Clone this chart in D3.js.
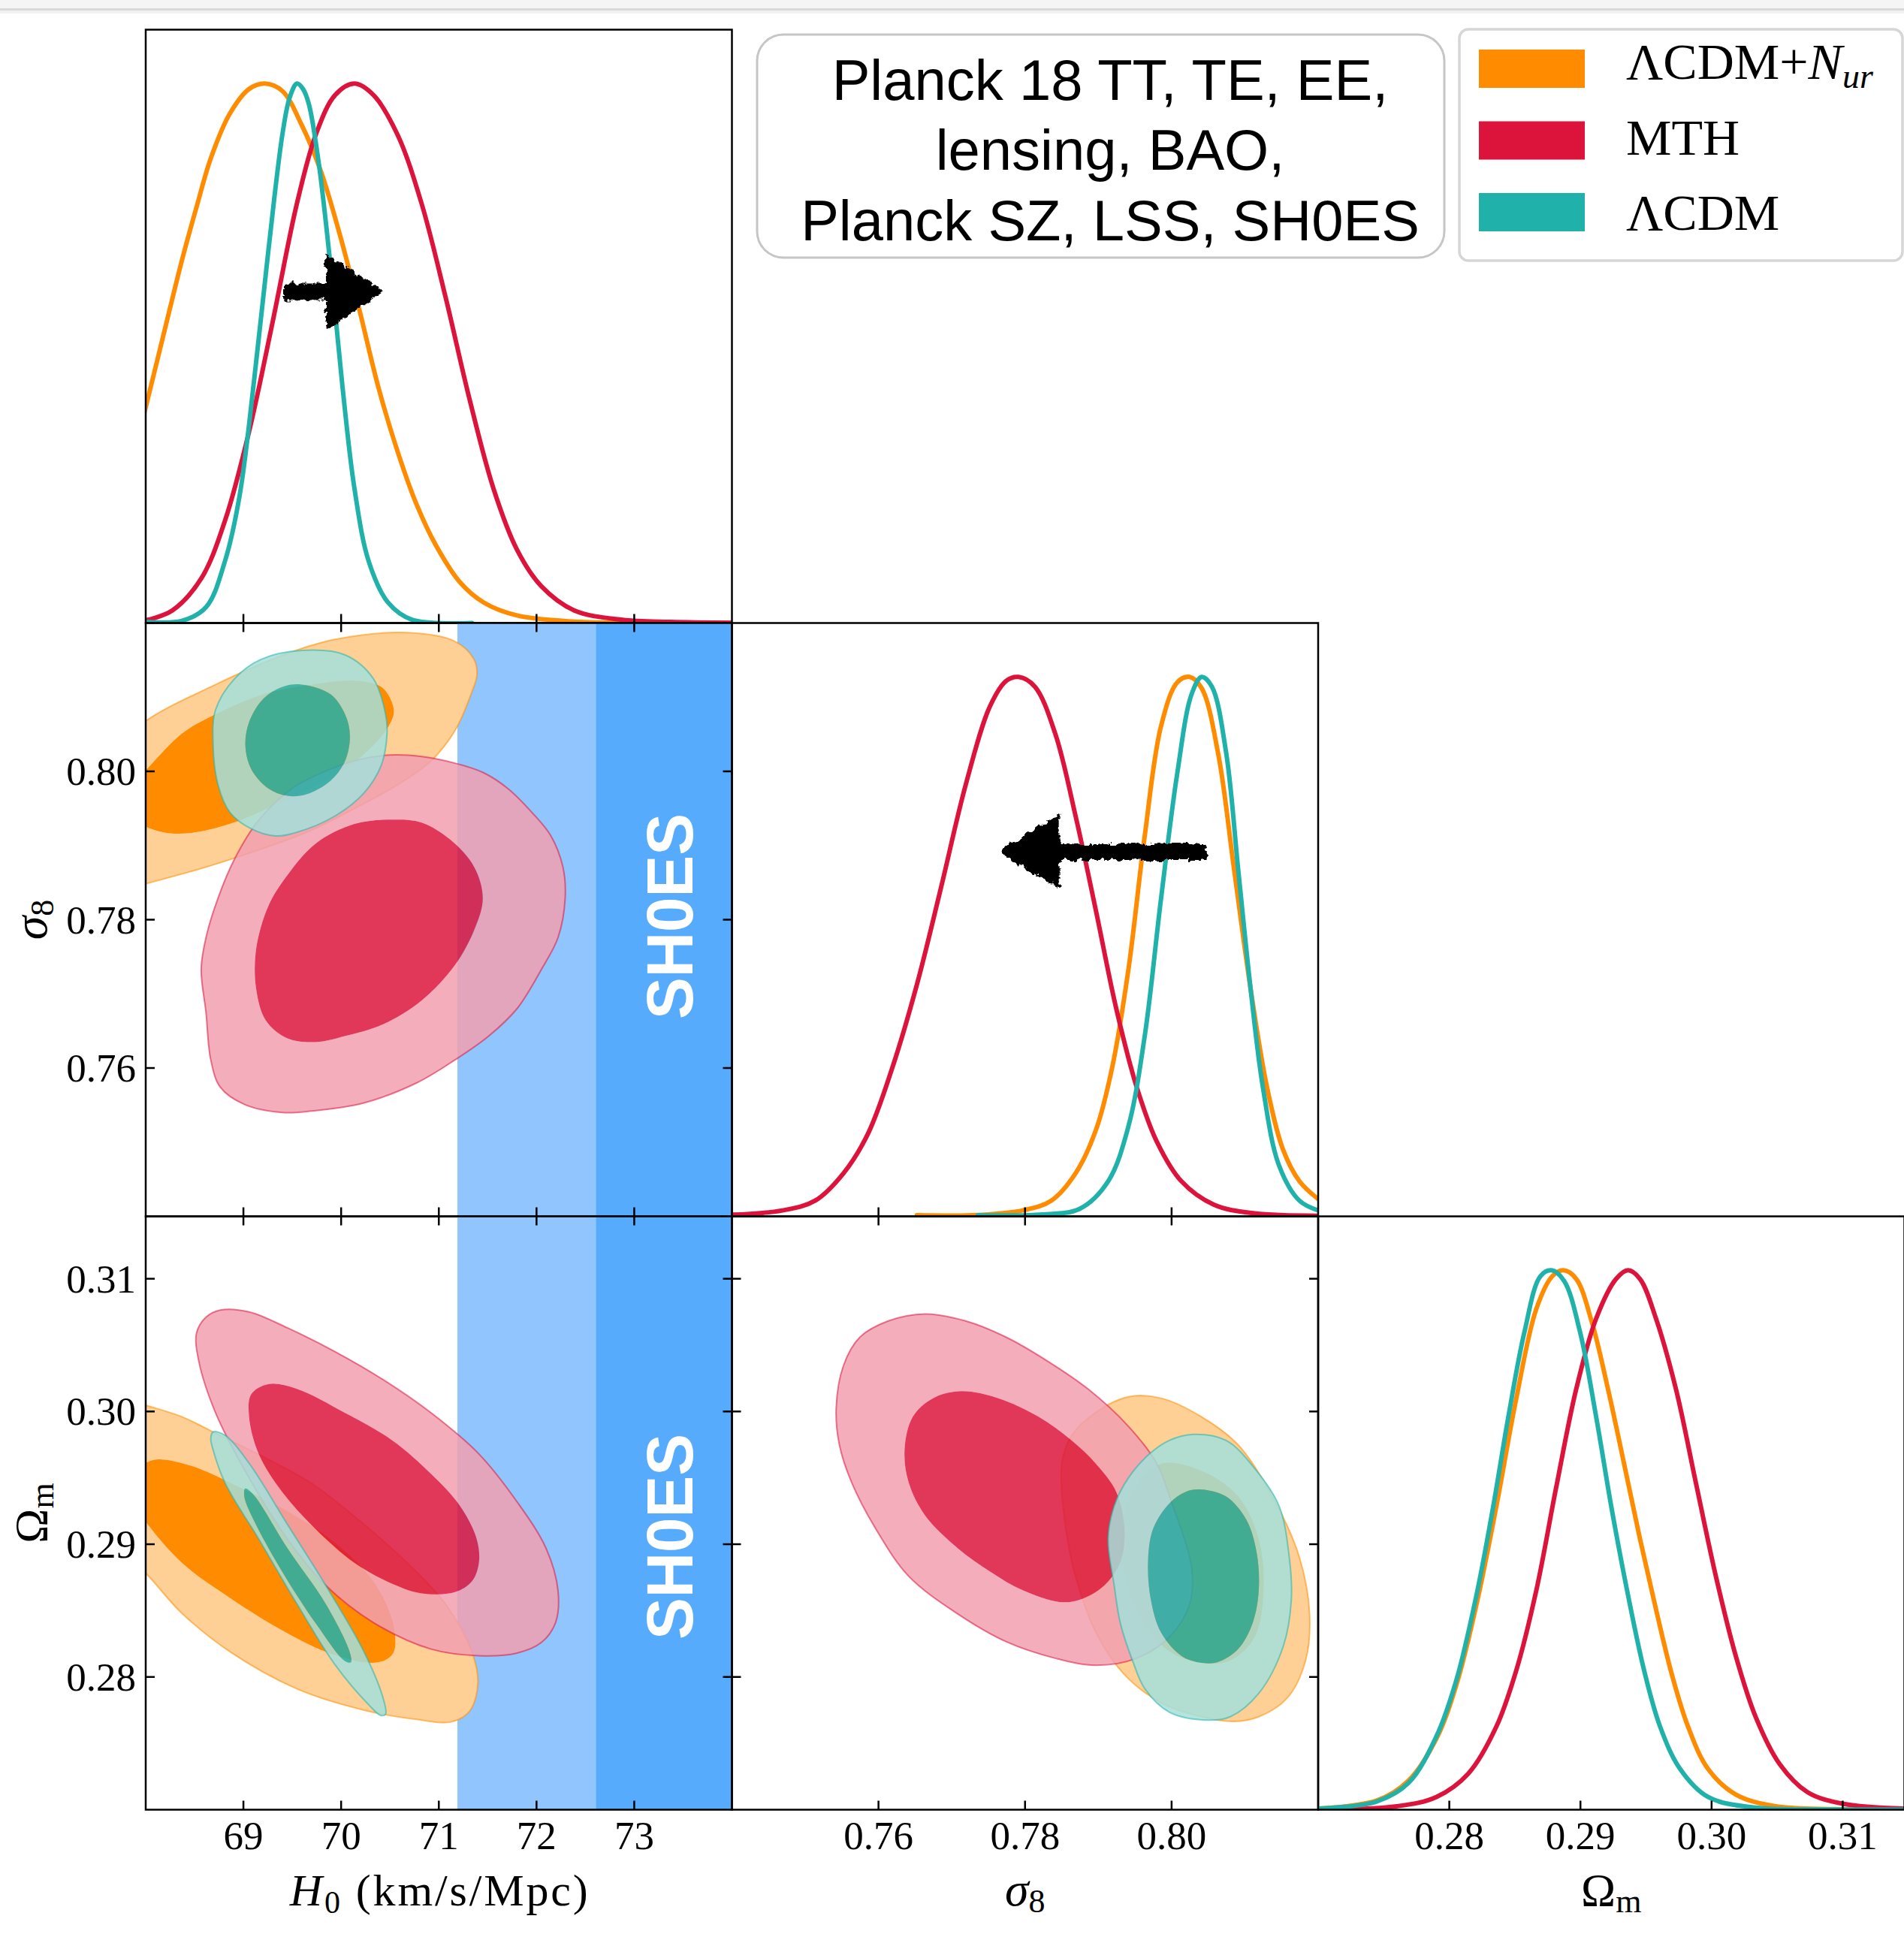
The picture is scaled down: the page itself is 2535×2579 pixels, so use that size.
<!DOCTYPE html>
<html><head><meta charset="utf-8">
<script src="https://cdn.jsdelivr.net/npm/d3@7"></script>
<style>body{margin:0;background:#fff}svg{display:block}</style>
</head><body>
<svg id="c" width="2535" height="2579"></svg>
<script>
// ---------------- DATA ----------------
const seriesNames = ["ΛCDM+N_ur", "MTH", "ΛCDM"];
const h0Range = [68, 74];
const s8Range = [0.74, 0.82];
const omRange = [0.27, 0.3147];
const h0Ticks = [69, 70, 71, 72, 73];
const h0TickLabels = ["69", "70", "71", "72", "73"];
const s8Ticks = [0.76, 0.78, 0.80];
const s8TickLabels = ["0.76", "0.78", "0.80"];
const omTicks = [0.28, 0.29, 0.30, 0.31];
const omTickLabels = ["0.28", "0.29", "0.30", "0.31"];
const sh0esMean = 74.03, sh0esSigma = 1.42;
const titleLines = ["Planck 18 TT, TE, EE,", "lensing, BAO,", "Planck SZ, LSS, SH0ES"];

// 1D marginals [value, normalised density]
const h0_LCDMNur = [[67.9,0.33],[68.0,0.40],[68.175,0.529],[68.37,0.672],[68.52,0.771],[68.665,0.861],[68.86,0.944],[69.058,0.99],[69.22,1.0],[69.4,0.986],[69.6,0.922],[69.79,0.839],[69.99,0.718],[70.185,0.582],[70.38,0.438],[70.578,0.318],[70.774,0.219],[70.97,0.144],[71.215,0.076],[71.46,0.038],[71.80,0.014],[72.39,0.0026],[73.13,0.0003],[74.0,0]];
const h0_MTH = [[68.0,0.005],[68.27,0.023],[68.57,0.083],[68.81,0.189],[69.058,0.355],[69.30,0.559],[69.548,0.778],[69.744,0.907],[69.94,0.979],[70.136,1.0],[70.33,0.979],[70.578,0.905],[70.823,0.778],[71.068,0.605],[71.313,0.416],[71.558,0.25],[71.80,0.136],[72.05,0.068],[72.39,0.023],[72.88,0.006],[73.37,0.002],[74.0,0.0003]];
const h0_LCDM = [[68.0,0.002],[68.37,0.004],[68.62,0.030],[68.81,0.114],[68.96,0.235],[69.107,0.446],[69.254,0.688],[69.40,0.907],[69.475,0.975],[69.548,1.0],[69.61,0.99],[69.67,0.962],[69.77,0.854],[69.89,0.665],[70.014,0.438],[70.136,0.25],[70.283,0.114],[70.48,0.038],[70.725,0.006],[71.34,0.0]];

const s8_LCDMNur = [[0.76523,0.002],[0.77356,0.0026],[0.77967,0.011],[0.78356,0.029],[0.7869,0.080],[0.78967,0.160],[0.79189,0.276],[0.79411,0.458],[0.79634,0.706],[0.79856,0.909],[0.80078,0.990],[0.80245,1.0],[0.80411,0.979],[0.80634,0.859],[0.80856,0.640],[0.81078,0.422],[0.81301,0.24],[0.81523,0.123],[0.81745,0.065],[0.82,0.032]];
const s8_MTH = [[0.74,0.003],[0.74689,0.011],[0.75134,0.029],[0.75523,0.080],[0.75856,0.153],[0.7619,0.276],[0.76523,0.429],[0.76856,0.611],[0.7719,0.800],[0.77523,0.946],[0.77745,0.993],[0.77912,1.0],[0.78134,0.982],[0.78412,0.895],[0.7869,0.742],[0.78967,0.567],[0.79245,0.385],[0.79523,0.24],[0.798,0.138],[0.80134,0.065],[0.80578,0.0215],[0.81134,0.0055],[0.82,0.0012]];
const s8_LCDM = [[0.77356,0.002],[0.7819,0.0033],[0.78745,0.014],[0.79134,0.065],[0.79411,0.167],[0.79634,0.335],[0.79856,0.589],[0.80078,0.822],[0.80273,0.968],[0.80411,1.0],[0.8055,0.982],[0.80745,0.859],[0.80911,0.640],[0.81078,0.422],[0.81245,0.24],[0.81467,0.094],[0.81745,0.029],[0.82,0.011]];

const om_LCDMNur = [[0.27005,0.002],[0.27446,0.0168],[0.2769,0.0541],[0.27903,0.1324],[0.28055,0.2324],[0.28207,0.3802],[0.28359,0.5627],[0.28511,0.7627],[0.28663,0.9279],[0.28785,0.9889],[0.2887,1.0],[0.28968,0.984],[0.29089,0.902],[0.2921,0.78],[0.29333,0.641],[0.29454,0.502],[0.29576,0.3715],[0.29698,0.2498],[0.2982,0.1543],[0.29972,0.0759],[0.30185,0.028],[0.30489,0.0063],[0.30945,0.001],[0.3147,0]];
const om_MTH = [[0.27005,0],[0.27598,0.0063],[0.27903,0.0237],[0.28146,0.0672],[0.28359,0.1541],[0.28511,0.2584],[0.28663,0.406],[0.28815,0.5974],[0.28968,0.78],[0.2912,0.9106],[0.29272,0.984],[0.29363,1.0],[0.29454,0.984],[0.29576,0.9106],[0.29728,0.78],[0.2988,0.6062],[0.30033,0.4324],[0.30185,0.2846],[0.30337,0.1715],[0.30519,0.0846],[0.30732,0.0324],[0.31006,0.0107],[0.31457,0.002]];
const om_LCDM = [[0.27005,0.002],[0.27446,0.015],[0.2769,0.0498],[0.27903,0.1367],[0.28055,0.241],[0.28207,0.3975],[0.28329,0.554],[0.2845,0.728],[0.28572,0.8845],[0.28694,0.9889],[0.28779,1.0],[0.28876,0.98],[0.28998,0.8845],[0.2912,0.728],[0.29241,0.554],[0.29363,0.3975],[0.29485,0.2586],[0.29607,0.1543],[0.29759,0.0759],[0.29972,0.0237],[0.30337,0.0037],[0.30945,0.0003],[0.3147,0]];

// 2D contours (68% = 1s, 95% = 2s)
const h0s8_LCDMNur_2s = [[67.4,0.787],[67.5,0.797],[67.7,0.803],[67.99,0.8067],[68.715,0.8117],[69.45,0.8159],[69.94,0.8178],[70.676,0.8187],[71.167,0.8175],[71.36,0.8151],[71.39,0.8130],[71.33,0.8104],[71.17,0.8056],[70.92,0.8014],[70.58,0.7982],[70.14,0.7950],[69.65,0.7918],[69.11,0.7892],[68.62,0.7871],[67.99,0.7848],[67.6,0.7835]];
const h0s8_LCDMNur_1s = [[67.99,0.8000],[68.37,0.8051],[68.715,0.8077],[69.205,0.8104],[69.695,0.8117],[70.185,0.8122],[70.43,0.8112],[70.54,0.8083],[70.50,0.8064],[70.33,0.8035],[70.04,0.8003],[69.695,0.7977],[69.25,0.7950],[68.86,0.7929],[68.47,0.7917],[68.175,0.7918],[67.93,0.7932],[67.85,0.7965],[67.9,0.7988]];
const h0s8_MTH_2s = [[70.504,0.8022],[70.823,0.8020],[71.166,0.8011],[71.46,0.7998],[71.705,0.7977],[71.95,0.7945],[72.147,0.7913],[72.27,0.7871],[72.293,0.7829],[72.22,0.7776],[72.05,0.7733],[71.80,0.7680],[71.51,0.7643],[71.166,0.7611],[70.774,0.7580],[70.234,0.7553],[69.695,0.7542],[69.40,0.7540],[69.009,0.7551],[68.764,0.7574],[68.666,0.7611],[68.617,0.7675],[68.568,0.7733],[68.617,0.7776],[68.74,0.7829],[68.91,0.7882],[69.156,0.7934],[69.499,0.7977],[69.891,0.8003],[70.185,0.8016]];
const h0s8_MTH_1s = [[70.529,0.7935],[70.823,0.7931],[71.117,0.7908],[71.362,0.7871],[71.45,0.7829],[71.362,0.7786],[71.166,0.7739],[70.823,0.7691],[70.43,0.7659],[70.038,0.7643],[69.744,0.7635],[69.45,0.7640],[69.23,0.7664],[69.13,0.7707],[69.13,0.7760],[69.254,0.7818],[69.45,0.7860],[69.744,0.7903],[70.136,0.7929]];
const h0s8_LCDM_2s = [[69.597,0.8163],[70.04,0.8157],[70.33,0.8125],[70.455,0.8077],[70.47,0.8051],[70.41,0.8008],[70.235,0.7971],[69.94,0.7940],[69.55,0.7918],[69.33,0.7913],[69.06,0.7924],[68.86,0.7945],[68.74,0.7982],[68.69,0.8035],[68.715,0.8083],[68.91,0.8125],[69.18,0.8151]];
const h0s8_LCDM_1s = [[69.597,0.8117],[69.89,0.8104],[70.04,0.8077],[70.09,0.8048],[70.04,0.8014],[69.89,0.7987],[69.645,0.7969],[69.45,0.7967],[69.254,0.7977],[69.08,0.8003],[69.02,0.8035],[69.06,0.8067],[69.205,0.8098],[69.40,0.8114]];

const h0om_LCDMNur_2s = [[67.7,0.3012],[67.99,0.3005],[68.37,0.2996],[68.76,0.2982],[69.254,0.2964],[69.695,0.2946],[70.185,0.2918],[70.676,0.2886],[71.068,0.2855],[71.338,0.2819],[71.40,0.2795],[71.313,0.2774],[71.117,0.2766],[70.774,0.2768],[70.234,0.2775],[69.548,0.2791],[68.862,0.2819],[68.37,0.2848],[67.99,0.2879],[67.6,0.2905],[67.5,0.297]];
const h0om_LCDMNur_1s = [[67.99,0.2961],[68.126,0.2964],[68.47,0.2959],[68.96,0.2943],[69.45,0.2925],[69.94,0.2901],[70.33,0.2872],[70.53,0.2841],[70.54,0.2819],[70.43,0.2812],[70.235,0.2811],[69.842,0.2819],[69.352,0.2837],[68.813,0.2862],[68.37,0.2886],[67.99,0.2918],[67.85,0.2935],[67.88,0.2955]];
const h0om_MTH_2s = [[68.764,0.30764],[69.058,0.3075],[69.45,0.3063],[69.94,0.3045],[70.43,0.3024],[70.92,0.2999],[71.41,0.2968],[71.80,0.2932],[72.097,0.2897],[72.22,0.2865],[72.195,0.2841],[72.05,0.2826],[71.80,0.2818],[71.41,0.2816],[70.92,0.2821],[70.33,0.2841],[69.842,0.2869],[69.45,0.2904],[69.058,0.2950],[68.715,0.2999],[68.543,0.3038],[68.52,0.3059],[68.617,0.3071]];
const h0om_MTH_1s = [[69.254,0.30206],[69.548,0.3017],[70.038,0.2999],[70.528,0.2978],[70.92,0.2953],[71.215,0.2929],[71.387,0.2904],[71.41,0.2886],[71.338,0.2872],[71.166,0.2864],[70.823,0.2863],[70.528,0.2870],[70.136,0.2886],[69.744,0.2911],[69.40,0.2939],[69.156,0.2968],[69.058,0.2996],[69.08,0.3013]];
const h0om_LCDM_2s = [[68.69,0.29846],[68.813,0.2982],[69.058,0.2961],[69.45,0.2915],[69.842,0.2869],[70.234,0.2819],[70.43,0.2784],[70.455,0.2772],[70.406,0.2771],[70.283,0.2779],[69.94,0.2809],[69.548,0.2855],[69.156,0.2904],[68.813,0.2946],[68.69,0.2971],[68.666,0.2980]];
const h0om_LCDM_1s = [[69.019,0.2942],[69.107,0.2937],[69.45,0.2897],[69.842,0.2855],[70.087,0.2819],[70.10,0.2811],[70.038,0.2812],[69.744,0.2840],[69.40,0.2879],[69.107,0.2918],[69.009,0.2936]];

const s8om_LCDMNur_2s = [[0.79411,0.30111],[0.79856,0.30100],[0.80411,0.29959],[0.80911,0.29747],[0.81411,0.29323],[0.81745,0.28900],[0.81883,0.28476],[0.81828,0.28123],[0.81578,0.27841],[0.81189,0.27700],[0.80856,0.27665],[0.80411,0.27700],[0.79856,0.27806],[0.79356,0.28018],[0.78967,0.28335],[0.78689,0.28759],[0.78578,0.29041],[0.78495,0.29465],[0.78511,0.29641],[0.78634,0.29818],[0.78967,0.29994]];
const s8om_LCDMNur_1s = [[0.79856,0.29606],[0.80411,0.29553],[0.80911,0.29359],[0.81189,0.29041],[0.81256,0.28653],[0.81134,0.28300],[0.80800,0.28123],[0.80411,0.28106],[0.79967,0.28194],[0.79578,0.28441],[0.79356,0.28794],[0.79328,0.29112],[0.79467,0.29394]];
const s8om_MTH_2s = [[0.76634,0.30735],[0.77189,0.30682],[0.77745,0.30559],[0.78300,0.30382],[0.78856,0.30171],[0.79411,0.29888],[0.79800,0.29606],[0.79995,0.29323],[0.80272,0.28829],[0.80245,0.28547],[0.79967,0.28300],[0.79523,0.28141],[0.78967,0.28088],[0.78412,0.28141],[0.77745,0.28265],[0.77078,0.28476],[0.76412,0.28759],[0.75967,0.29112],[0.75634,0.29465],[0.75467,0.29747],[0.75423,0.30029],[0.75523,0.30347],[0.75745,0.30559],[0.76134,0.30682]];
const s8om_MTH_1s = [[0.77134,0.30153],[0.77634,0.30100],[0.78189,0.29959],[0.78634,0.29782],[0.78967,0.29606],[0.79245,0.29394],[0.79356,0.29112],[0.79300,0.28865],[0.79078,0.28688],[0.78745,0.28582],[0.78467,0.28565],[0.77967,0.28653],[0.77523,0.28794],[0.77078,0.28971],[0.76634,0.29218],[0.76412,0.29465],[0.76356,0.29712],[0.76467,0.29959],[0.76745,0.30100]];
const s8om_LCDM_2s = [[0.80300,0.29828],[0.80745,0.29782],[0.81134,0.29571],[0.81467,0.29288],[0.81606,0.28900],[0.81634,0.28582],[0.81523,0.28229],[0.81189,0.27876],[0.80800,0.27700],[0.80467,0.27675],[0.79967,0.27735],[0.79634,0.27912],[0.79467,0.28123],[0.79300,0.28406],[0.79217,0.28688],[0.79134,0.29041],[0.79217,0.29288],[0.79411,0.29500],[0.79689,0.29676],[0.79967,0.29782]];
const s8om_LCDM_1s = [[0.80411,0.29412],[0.80745,0.29359],[0.81022,0.29182],[0.81161,0.28935],[0.81189,0.28653],[0.81106,0.28406],[0.80911,0.28212],[0.80634,0.28113],[0.80411,0.28106],[0.80134,0.28159],[0.79856,0.28335],[0.79717,0.28582],[0.79678,0.28865],[0.79745,0.29112],[0.79967,0.29306],[0.80189,0.29394]];

// hand-drawn arrow annotations (data units)
const arrowH0 = {from: 69.43, headBase: 69.86, to: 70.41, level: 0.614};
const arrowS8 = {from: 0.8046, headBase: 0.7846, to: 0.7768, level: 0.676};

// ---------------- LAYOUT / STYLE ----------------
const COLORS = ["#FF8C00", "#DC143C", "#20B2AA"];
const L = 194, T = 39.5, CW = 780.5, RH = 790;
const colX = i => L + i * CW, rowY = j => T + j * RH;
const SERIF = "'Liberation Serif','Times New Roman',serif";
const SANS = "'Liberation Sans',Arial,sans-serif";
const TICK = 12;

const svg = d3.select("#c");
svg.append("rect").attr("width", 2535).attr("height", 2579).attr("fill", "#fff");
// top window strip
svg.append("rect").attr("x",0).attr("y",0).attr("width",2535).attr("height",11).attr("fill","#f5f5f5");
svg.append("rect").attr("x",0).attr("y",11).attr("width",2535).attr("height",3).attr("fill","#d9d9d9");
svg.append("rect").attr("x",0).attr("y",14).attr("width",2535).attr("height",4).attr("fill","#eef2f1");

const defs = svg.append("defs");
const filt = defs.append("filter").attr("id","rough").attr("x","-30%").attr("y","-60%").attr("width","160%").attr("height","220%");
filt.append("feTurbulence").attr("type","fractalNoise").attr("baseFrequency","0.14").attr("numOctaves",3).attr("seed",4).attr("result","n");
filt.append("feDisplacementMap").attr("in","SourceGraphic").attr("in2","n").attr("scale",11).attr("xChannelSelector","R").attr("yChannelSelector","G");

// scales
const xH0 = d3.scaleLinear().domain(h0Range).range([colX(0), colX(0) + CW]);
const xS8 = d3.scaleLinear().domain(s8Range).range([colX(1), colX(1) + CW]);
const xOm = d3.scaleLinear().domain(omRange).range([colX(2), colX(2) + CW]);
const yS8 = d3.scaleLinear().domain(s8Range).range([rowY(1) + RH, rowY(1)]);
const yOm = d3.scaleLinear().domain(omRange).range([rowY(2) + RH, rowY(2)]);
const yD = r => d3.scaleLinear().domain([0, 1.1]).range([rowY(r) + RH, rowY(r)]);

let clipN = 0;
function panel(c, r) {
  const id = "clip" + (clipN++);
  defs.append("clipPath").attr("id", id).append("rect")
    .attr("x", colX(c)).attr("y", rowY(r)).attr("width", CW).attr("height", RH);
  return svg.append("g").attr("clip-path", `url(#${id})`);
}

function draw1D(g, xs, ys, curves) {
  const line = d3.line().x(d => xs(d[0])).y(d => ys(Math.max(0, d[1]))).curve(d3.curveCatmullRom.alpha(0.5));
  curves.forEach((cv, i) => g.append("path").attr("d", line(cv)).attr("fill", "none")
    .attr("stroke", COLORS[i]).attr("stroke-width", 6).attr("stroke-linejoin", "round").attr("stroke-linecap","round"));
}

function draw2D(g, xs, ys, sets) {
  const line = d3.line().x(d => xs(d[0])).y(d => ys(d[1])).curve(d3.curveCatmullRomClosed.alpha(0.5));
  sets.forEach(([outer, inner], i) => {
    const op = i === 0 ? 1 : 0.85;
    const light = d3.interpolateRgb("#ffffff", COLORS[i])(0.41);
    g.append("path").attr("d", line(outer) + line(inner)).attr("fill", light)
      .attr("fill-rule", "evenodd").attr("fill-opacity", op);
    g.append("path").attr("d", line(inner)).attr("fill", COLORS[i]).attr("fill-opacity", op);
    g.append("path").attr("d", line(outer)).attr("fill", "none").attr("stroke", COLORS[i])
      .attr("stroke-opacity", 0.55).attr("stroke-width", 2);
  });
}

function sh0esBand(g, r) {
  const y0 = rowY(r);
  g.append("rect").attr("x", xH0(sh0esMean - 2 * sh0esSigma)).attr("y", y0)
    .attr("width", xH0(sh0esMean + 2 * sh0esSigma) - xH0(sh0esMean - 2 * sh0esSigma)).attr("height", RH).attr("fill", "#90C5FD");
  g.append("rect").attr("x", xH0(sh0esMean - sh0esSigma)).attr("y", y0)
    .attr("width", xH0(sh0esMean + sh0esSigma) - xH0(sh0esMean - sh0esSigma)).attr("height", RH).attr("fill", "#57ABFD");
}
function sh0esLabel(cy) {
  svg.append("text").attr("transform", `translate(922,${cy}) rotate(-90)`)
    .attr("text-anchor", "middle").attr("font-family", SANS).attr("font-weight", "bold")
    .attr("font-size", 88).attr("textLength", 274).attr("lengthAdjust","spacingAndGlyphs")
    .attr("fill", "#fff").text("SH0ES");
}

function arrow(xs, ys, a) {
  const y = ys(a.level), x0 = xs(a.from), xb = xs(a.headBase), x1 = xs(a.to);
  const t = 9, hh = 47;
  const pts = [[x0, y - t], [xb, y - t], [xb, y - hh], [x1, y], [xb, y + hh], [xb, y + t], [x0, y + t]];
  svg.append("path").attr("d", d3.line()(pts) + "Z").attr("fill", "#000")
    .attr("stroke", "#000").attr("stroke-width", 4).attr("stroke-linejoin","round").attr("filter", "url(#rough)");
}

function border(c, r) {
  svg.append("rect").attr("x", colX(c)).attr("y", rowY(r)).attr("width", CW).attr("height", RH)
    .attr("fill", "none").attr("stroke", "#000").attr("stroke-width", 2.5);
}
function tickLine(x1, y1, x2, y2) {
  svg.append("line").attr("x1", x1).attr("y1", y1).attr("x2", x2).attr("y2", y2)
    .attr("stroke", "#000").attr("stroke-width", 2.5);
}
function xTicks(xs, vals, r, sides) {
  vals.forEach(v => {
    const x = xs(v);
    if (sides.includes("b")) tickLine(x, rowY(r) + RH, x, rowY(r) + RH - TICK);
    if (sides.includes("t")) tickLine(x, rowY(r), x, rowY(r) + TICK);
  });
}
function yTicks(ys, vals, c, sides) {
  vals.forEach(v => {
    const y = ys(v);
    if (sides.includes("l")) tickLine(colX(c), y, colX(c) + TICK, y);
    if (sides.includes("r")) tickLine(colX(c) + CW, y, colX(c) + CW - TICK, y);
  });
}

// ---- Row 1: H0 marginal ----
let g = panel(0, 0);
draw1D(g, xH0, yD(0), [h0_LCDMNur, h0_MTH, h0_LCDM]);
arrow(xH0, yD(0), arrowH0);
border(0, 0); xTicks(xH0, h0Ticks, 0, "b");

// ---- Row 2: H0-s8 and s8 marginal ----
g = panel(0, 1);
sh0esBand(g, 1);
draw2D(g, xH0, yS8, [[h0s8_LCDMNur_2s, h0s8_LCDMNur_1s], [h0s8_MTH_2s, h0s8_MTH_1s], [h0s8_LCDM_2s, h0s8_LCDM_1s]]);
sh0esLabel(1220);
border(0, 1); xTicks(xH0, h0Ticks, 1, "tb"); yTicks(yS8, s8Ticks, 0, "lr");

g = panel(1, 1);
draw1D(g, xS8, yD(1), [s8_LCDMNur, s8_MTH, s8_LCDM]);
arrow(xS8, yD(1), arrowS8);
border(1, 1); xTicks(xS8, s8Ticks, 1, "b");

// ---- Row 3 ----
g = panel(0, 2);
sh0esBand(g, 2);
draw2D(g, xH0, yOm, [[h0om_LCDMNur_2s, h0om_LCDMNur_1s], [h0om_MTH_2s, h0om_MTH_1s], [h0om_LCDM_2s, h0om_LCDM_1s]]);
sh0esLabel(2046);
border(0, 2); xTicks(xH0, h0Ticks, 2, "tb"); yTicks(yOm, omTicks, 0, "lr");

g = panel(1, 2);
draw2D(g, xS8, yOm, [[s8om_LCDMNur_2s, s8om_LCDMNur_1s], [s8om_MTH_2s, s8om_MTH_1s], [s8om_LCDM_2s, s8om_LCDM_1s]]);
border(1, 2); xTicks(xS8, s8Ticks, 2, "tb"); yTicks(yOm, omTicks, 1, "lr");

g = panel(2, 2);
draw1D(g, xOm, yD(2), [om_LCDMNur, om_MTH, om_LCDM]);
border(2, 2); xTicks(xOm, omTicks, 2, "b");

// ---- tick labels ----
const tl = (x, y, s, anchor) => svg.append("text").attr("x", x).attr("y", y).attr("text-anchor", anchor)
  .attr("font-family", SERIF).attr("font-size", 53).attr("fill", "#000").text(s);
const xLabY = rowY(2) + RH + 52;
h0Ticks.forEach((v, i) => tl(xH0(v), xLabY, h0TickLabels[i], "middle"));
s8Ticks.forEach((v, i) => tl(xS8(v), xLabY, s8TickLabels[i], "middle"));
omTicks.forEach((v, i) => tl(xOm(v), xLabY, omTickLabels[i], "middle"));
s8Ticks.forEach((v, i) => tl(L - 13, yS8(v) + 18, s8TickLabels[i], "end"));
omTicks.forEach((v, i) => tl(L - 13, yOm(v) + 18, omTickLabels[i], "end"));

// ---- axis labels ----
const axY = rowY(2) + RH + 127;
let t = svg.append("text").attr("x", colX(0) + CW / 2).attr("y", axY).attr("text-anchor", "middle")
  .attr("font-family", SERIF).attr("font-size", 60).attr("textLength", 397).attr("lengthAdjust", "spacing");
t.append("tspan").attr("font-style", "italic").text("H");
t.append("tspan").attr("font-size", 42).attr("dy", 10).text("0");
t.append("tspan").attr("dy", -10).text(" (km/s/Mpc)");

t = svg.append("text").attr("x", colX(1) + CW / 2).attr("y", axY).attr("text-anchor", "middle")
  .attr("font-family", SERIF).attr("font-size", 64);
t.append("tspan").attr("font-style", "italic").text("σ");
t.append("tspan").attr("font-size", 44).attr("dy", 9).text("8");

t = svg.append("text").attr("x", colX(2) + CW / 2).attr("y", axY).attr("text-anchor", "middle")
  .attr("font-family", SERIF).attr("font-size", 62);
t.append("tspan").text("Ω");
t.append("tspan").attr("font-size", 44).attr("dy", 9).text("m");

t = svg.append("text").attr("transform", `translate(62,${rowY(1) + RH / 2}) rotate(-90)`).attr("text-anchor", "middle")
  .attr("font-family", SERIF).attr("font-size", 64);
t.append("tspan").attr("font-style", "italic").text("σ");
t.append("tspan").attr("font-size", 44).attr("dy", 9).text("8");

t = svg.append("text").attr("transform", `translate(62,${rowY(2) + RH / 2}) rotate(-90)`).attr("text-anchor", "middle")
  .attr("font-family", SERIF).attr("font-size", 62);
t.append("tspan").text("Ω");
t.append("tspan").attr("font-size", 44).attr("dy", 9).text("m");

// ---- title box ----
svg.append("rect").attr("x", 1008).attr("y", 46).attr("width", 915).attr("height", 297).attr("rx", 35)
  .attr("fill", "#fff").attr("stroke", "#c6c6c6").attr("stroke-width", 3);
titleLines.forEach((s, i) => svg.append("text").attr("x", 1478).attr("y", 132.5 + i * 93.5)
  .attr("text-anchor", "middle").attr("font-family", SANS).attr("font-size", 76).attr("fill", "#000").text(s));

// ---- legend ----
svg.append("rect").attr("x", 1943).attr("y", 39).attr("width", 590).attr("height", 308).attr("rx", 12)
  .attr("fill", "#fff").attr("stroke", "#d6d6d6").attr("stroke-width", 3.5);
seriesNames.forEach((name, i) => {
  svg.append("rect").attr("x", 1969).attr("y", 66 + i * 95.5).attr("width", 141).attr("height", 51).attr("fill", COLORS[i]);
  const tx = svg.append("text").attr("x", 2165).attr("y", 105 + i * 100.5)
    .attr("font-family", SERIF).attr("font-size", 68).attr("fill", "#000");
  const parts = name.split("+");
  if (parts.length > 1) {
    const [nn, sub] = parts[1].split("_");
    tx.append("tspan").text(parts[0] + "+");
    tx.append("tspan").attr("font-style", "italic").text(nn);
    tx.append("tspan").attr("font-style", "italic").attr("font-size", 46).attr("dy", 12).text(sub);
  } else tx.text(name);
});
</script>
</body></html>
